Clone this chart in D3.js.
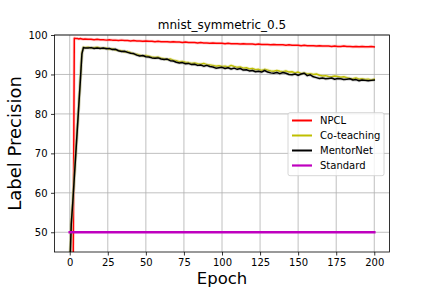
<!DOCTYPE html>
<html><head><meta charset="utf-8">
<script src="https://cdn.jsdelivr.net/npm/d3@7"></script>
<style>body{margin:0;background:#fff}svg{display:block;font-family:"DejaVu Sans",sans-serif}</style>
</head><body>
<svg id="c" width="432" height="288"></svg>
<script>
const title = "mnist_symmetric_0.5";
const xTicks = [0,25,50,75,100,125,150,175,200];
const yTicks = [50,60,70,80,90,100];
const seriesNames = ["NPCL","Co-teaching","MentorNet","Standard"];
const seriesColors = ["#ff0000","#bfbf00","#000000","#bf00bf"];

const epochs = [0,1,2,3,4,5,6,7,8,9,10,
 12,14,16,18,20,22,24,26,28,30,32,34,36,38,40,42,44,46,48,50,52,54,56,58,60,
 62,64,66,68,70,72,74,76,78,80,82,84,86,88,90,92,94,96,98,100,
 102,104,106,108,110,112,114,116,118,120,122,124,126,128,130,132,134,136,138,140,
 142,144,146,148,150,152,154,156,158,160,162,164,166,168,170,172,174,176,178,180,
 182,184,186,188,190,192,194,196,198,200];

const npcl = [10,15,20,99.2,99.1,99.1,99.0,99.1,99.0,98.9,99.0,
 98.9,98.9,98.8,98.9,98.8,98.8,98.7,98.8,98.7,98.7,98.6,98.7,98.6,98.6,98.5,98.6,98.5,98.5,98.4,98.5,98.4,98.4,98.3,98.4,98.3,
 98.3,98.3,98.2,98.3,98.2,98.2,98.1,98.2,98.1,98.1,98.1,98.0,98.1,98.0,98.0,97.9,98.0,97.9,97.9,97.9,
 97.8,97.9,97.8,97.8,97.8,97.7,97.8,97.7,97.7,97.7,97.6,97.7,97.6,97.6,97.6,97.5,97.6,97.5,97.5,97.5,
 97.4,97.5,97.4,97.4,97.4,97.3,97.4,97.3,97.3,97.3,97.2,97.3,97.2,97.2,97.2,97.1,97.2,97.1,97.1,97.2,
 97.1,97.1,97.0,97.1,97.0,97.1,97.0,97.0,97.1,97.0];

const coteaching = [40.5,52.5,58,64,70.3,76.5,82.7,89,95.5,96.9,96.8,
 96.9,96.7,96.8,96.9,96.7,96.6,96.7,96.4,96.5,96.2,96.1,96.0,95.7,95.8,95.5,95.2,95.1,94.9,94.7,94.8,94.6,94.4,94.3,94.4,94.1,
 94.0,93.8,93.9,93.6,93.5,93.2,93.3,93.1,93.0,92.8,92.9,92.7,92.6,92.8,92.5,92.4,92.3,92.1,92.2,92.0,
 92.1,91.9,92.3,92.0,91.8,91.9,91.6,91.7,91.4,91.5,91.2,91.3,91.0,91.3,91.1,90.9,90.8,91.0,90.8,90.7,
 90.9,90.6,90.7,90.4,90.6,90.2,90.4,90.1,90.2,90.0,90.1,89.8,89.6,89.7,89.5,89.4,89.6,89.5,89.3,89.4,
 89.2,89.0,88.9,89.1,88.8,88.9,88.7,88.8,88.6,88.8];

const mentornet = [40,52,57.5,63.8,70,76.2,82.4,88.6,95.2,96.8,96.7,
 96.7,96.8,96.6,96.7,96.6,96.7,96.5,96.6,96.3,96.4,96.0,95.8,95.9,95.6,95.4,95.3,94.9,94.7,94.8,94.5,94.4,94.2,94.1,94.2,93.9,
 93.8,93.9,93.5,93.4,93.1,92.9,93.0,92.7,92.8,92.5,92.6,92.3,92.4,92.1,92.3,92.0,91.9,91.6,91.7,91.8,
 91.5,91.7,91.4,91.6,91.3,91.5,91.1,91.2,90.9,91.0,90.7,90.8,90.6,91.0,90.6,90.4,90.3,90.5,90.2,90.5,
 90.3,90.0,89.9,90.1,89.8,90.1,90.3,89.7,89.9,89.4,89.2,89.0,89.1,88.9,89.0,89.1,88.8,89.0,88.9,88.7,
 88.8,88.9,88.6,88.7,88.4,88.6,88.5,88.4,88.5,88.6];

const standardEpochs = [0,200];
const standard = [50,50];

const W = 432, H = 288;
const L = 54.5, R = 389.5, T = 35, B = 252;
const svg = d3.select("#c");
const x = d3.scaleLinear().domain([-10,210]).range([L,R]);
const y = d3.scaleLinear().domain([45,100]).range([B,T]);

svg.append("defs").append("clipPath").attr("id","clip")
 .append("rect").attr("x",L).attr("y",T).attr("width",R-L).attr("height",B-T);

// grid
const g = svg.append("g");
g.selectAll(".gx").data(xTicks).join("line")
 .attr("x1",d=>x(d)).attr("x2",d=>x(d)).attr("y1",T).attr("y2",B)
 .attr("stroke","#b0b0b0").attr("stroke-width",0.8);
g.selectAll(".gy").data(yTicks).join("line")
 .attr("y1",d=>y(d)).attr("y2",d=>y(d)).attr("x1",L).attr("x2",R)
 .attr("stroke","#b0b0b0").attr("stroke-width",0.8);

const plot = svg.append("g").attr("clip-path","url(#clip)");
const line = d3.line().x(d=>x(d[0])).y(d=>y(d[1]));
const sets = [
 {e:epochs, v:npcl, c:seriesColors[0], w:1.5, halo:"#ff9999"},
 {e:epochs, v:coteaching, c:seriesColors[1], w:1.5, halo:"#e0e080"},
 {e:epochs, v:mentornet, c:seriesColors[2], w:1.5, halo:"#999999"},
 {e:standardEpochs, v:standard, c:seriesColors[3], w:2.6, halo:null}
];
sets.forEach(s=>{
 const pts = s.e.map((ep,i)=>[ep,s.v[i]]);
 if (s.halo) plot.append("path").attr("d",line(pts)).attr("fill","none")
   .attr("stroke",s.halo).attr("stroke-opacity",0.4).attr("stroke-width",3.2).attr("stroke-linejoin","round");
 plot.append("path").attr("d",line(pts)).attr("fill","none")
   .attr("stroke",s.c).attr("stroke-width",s.w)
   .attr("stroke-linejoin","round").attr("stroke-linecap","square");
});

// axes
const xa = svg.append("g").attr("transform",`translate(0,${B})`)
 .call(d3.axisBottom(x).tickValues(xTicks).tickSize(3.5).tickPadding(3.5).tickFormat(d3.format("d")));
const ya = svg.append("g").attr("transform",`translate(${L},0)`)
 .call(d3.axisLeft(y).tickValues(yTicks).tickSize(3.5).tickPadding(3.5).tickFormat(d3.format("d")));
[xa,ya].forEach(a=>{
 a.select(".domain").remove();
 a.selectAll("line").attr("stroke","#000").attr("stroke-width",0.8);
 a.selectAll("text").attr("font-size",10).attr("font-family","DejaVu Sans").attr("fill","#000");
});
svg.append("rect").attr("x",L).attr("y",T).attr("width",R-L).attr("height",B-T)
 .attr("fill","none").attr("stroke","#000").attr("stroke-width",0.8);

// labels
svg.append("text").attr("x",(L+R)/2).attr("y",28.5).attr("text-anchor","middle")
 .attr("font-size",12).text(title);
svg.append("text").attr("x",(L+R)/2).attr("y",284).attr("text-anchor","middle")
 .attr("font-size",16.5).text("Epoch");
svg.append("text").attr("transform",`translate(20.5,${(T+B)/2}) rotate(-90)`)
 .attr("text-anchor","middle").attr("font-size",18).text("Label Precision");

// legend
const lg = svg.append("g");
lg.append("rect").attr("x",288).attr("y",112.7).attr("width",96).attr("height",63).attr("rx",2)
 .attr("fill","#fff").attr("fill-opacity",0.8).attr("stroke","#cccccc").attr("stroke-width",0.8);
const rowY = d3.scalePoint().domain(seriesNames).range([120.5,165.5]);
seriesNames.forEach((n,i)=>{
 lg.append("line").attr("x1",292).attr("x2",312).attr("y1",rowY(n)).attr("y2",rowY(n))
  .attr("stroke",seriesColors[i]).attr("stroke-width",i===3?2.2:2);
 lg.append("text").attr("x",320).attr("y",rowY(n)).attr("dy","0.36em").attr("font-size",10).text(n);
});
</script>
</body></html>
